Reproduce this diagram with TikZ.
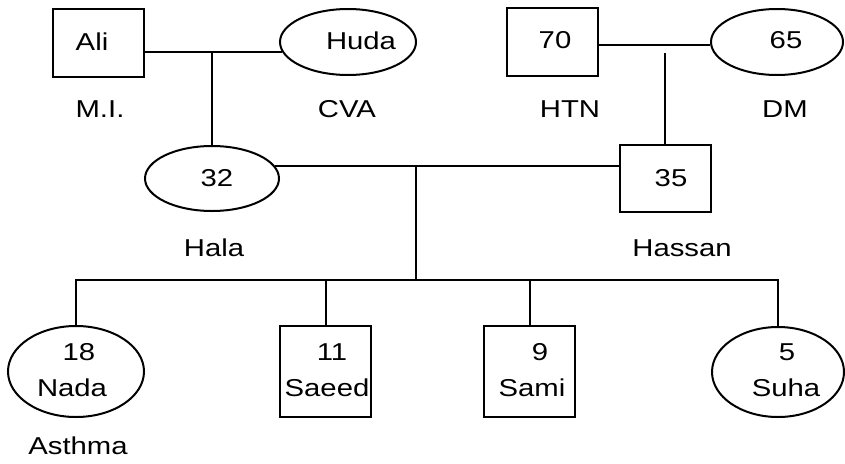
\documentclass[tikz,border=0pt]{standalone}
\usepackage{fontspec}
\usetikzlibrary{shapes.geometric}
\newfontfamily\pedfont[FakeStretch=1.2]{Liberation Sans}
\begin{document}
\begin{tikzpicture}[x=1pt,y=-1pt,
  male/.style={draw, line width=2pt, rectangle, inner sep=0pt, minimum width=#1, minimum height=68pt},
  female/.style={draw, line width=2pt, ellipse, inner sep=0pt, minimum width=#1},
  lbl/.style={inner sep=0pt, font=\pedfont\fontsize{24.4}{28}\selectfont},
  link/.style={line width=2pt}]
\useasboundingbox (0,0) rectangle (845,463);

% grandparents
\node[male=91pt] (ali) at (98,42.5) {};
\node[female=136pt, minimum height=66pt] (huda) at (348,42) {};
\node[male=91pt] (gf) at (552,42) {};
\node[female=132pt, minimum height=66pt] (gm) at (777,42) {};

% parents
\node[female=134pt, minimum height=65pt] (hala) at (212,178.5) {};
\node[male=91pt, minimum height=67pt] (hassan) at (665,178) {};

% children
\node[female=136pt, minimum height=91pt] (nada) at (76,371.5) {};
\node[male=91pt, minimum height=91pt] (saeed) at (325.5,371.5) {};
\node[male=91pt, minimum height=91pt] (sami) at (529.5,371.5) {};
\node[female=132pt, minimum height=90pt] (suha) at (778,372) {};

% texts
\node[lbl] (tali) at (92,41.5) {Ali};
\node[lbl] (thuda) at (361,41) {Huda};
\node[lbl] (tgf) at (555,40.5) {70};
\node[lbl] (tgm) at (786,40.5) {65};
\node[lbl] (tmi) at (100,109) {M.I.};
\node[lbl] (tcva) at (347,109) {CVA};
\node[lbl] (thtn) at (570,109) {HTN};
\node[lbl] (tdm) at (785,109) {DM};
\node[lbl] (thala) at (217,178) {32};
\node[lbl] (thassan) at (671,178) {35};
\node[lbl] (nhala) at (214,248) {Hala};
\node[lbl] (nhassan) at (682,248) {Hassan};
\node[lbl] (anada) at (79,352) {18};
\node[lbl] (nnada) at (72,388) {Nada};
\node[lbl] (asaeed) at (332,352) {11};
\node[lbl] (nsaeed) at (327,388) {Saeed};
\node[lbl] (asami) at (540,352) {9};
\node[lbl] (nsami) at (532,388) {Sami};
\node[lbl] (asuha) at (787,352) {5};
\node[lbl] (nsuha) at (786,388) {Suha};
\node[lbl] (tasthma) at (78,446) {Asthma};

% marriage lines and descent
\coordinate (m1) at (212,53);
\coordinate (m2) at (665,53);
\coordinate (m3) at (416,166);
\coordinate (sib) at (416,280);

\draw[link] (ali.east |- huda.189.6) -- (huda.189.6);
\draw[link] (m1) -- (hala.north);
\draw[link] (gf.east |- gm.183.4) -- (gm.183.4);
\draw[link] (m2) -- (hassan.north);
\draw[link] (hala.11.2) -- (hala.11.2 -| hassan.west);
\draw[link] (m3) -- (sib);
\draw[link] (nada.north) -- (nada.north |- sib) -- (suha.north |- sib) -- (suha.north);
\draw[link] (saeed.north) -- (saeed.north |- sib);
\draw[link] (sami.north) -- (sami.north |- sib);
\end{tikzpicture}
\end{document}
